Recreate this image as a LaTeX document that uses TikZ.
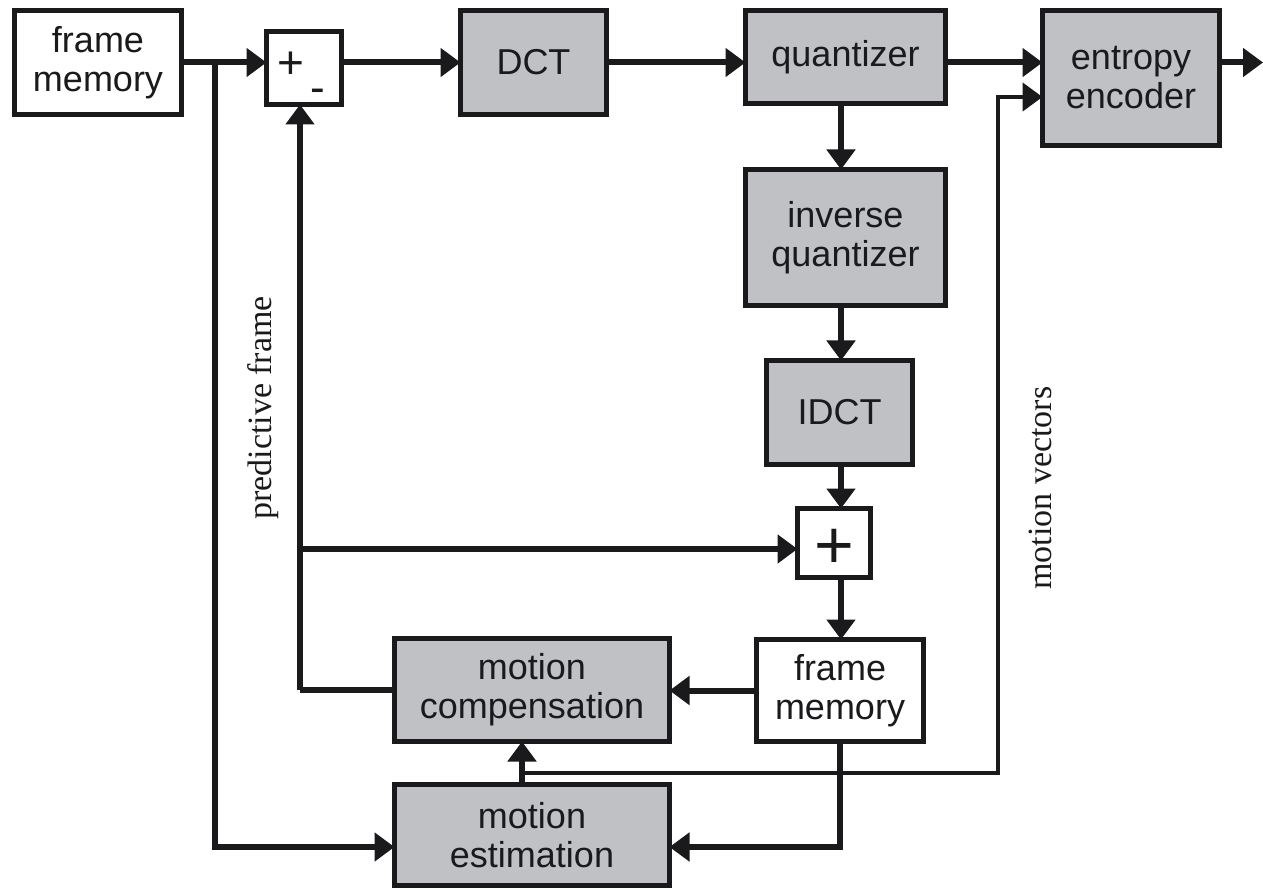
\documentclass[tikz,border=0pt]{standalone}
\usepackage{fontspec}
\setmainfont{Liberation Sans}
\newfontfamily\lblfont{Liberation Serif}
\usetikzlibrary{arrows.meta}
\definecolor{gfill}{RGB}{192,193,197}
\definecolor{lc}{RGB}{26,26,28}
\begin{document}
\begin{tikzpicture}[x=1pt,y=-1pt,
  blk/.style={draw=lc, line width=5.5pt, inner sep=0pt, outer sep=0pt, align=center,
              font=\fontsize{36}{39}\selectfont, text=lc},
  gblk/.style={blk, fill=gfill},
  wblk/.style={blk, fill=white},
  conn/.style={draw=lc, line width=6pt},
  arr/.style={conn, -{Triangle[length=20pt,width=28pt]}},
  mvl/.style={draw=lc, line width=4.5pt, -{Triangle[length=20pt,width=28pt]}},
  sign/.style={inner sep=0pt, text=lc},
  lbl/.style={rotate=90, inner sep=0pt, text=lc, font=\lblfont\fontsize{34}{37}\selectfont}
]
\useasboundingbox (0,0) rectangle (1263,890);
% blocks
\node[wblk, minimum width=167pt, minimum height=104pt] (fm1) at (98,62.5) {frame\\memory};
\node[wblk, minimum width=75pt, minimum height=73pt] (sub) at (304,68) {};
\node[sign, font=\fontsize{46}{46}\selectfont] (plusA) at (291,65) {+};
\node[sign, font=\fontsize{44}{44}\selectfont] (minusA) at (318,96) {-};
\node[gblk, minimum width=146pt, minimum height=104pt] (dct) at (533.5,62.5) {DCT};
\node[gblk, minimum width=200pt, minimum height=93pt] (quant) at (845.5,57) {quantizer};
\node[gblk, minimum width=177pt, minimum height=135pt] (ent) at (1131,78) {entropy\\encoder};
\node[gblk, minimum width=200pt, minimum height=136pt] (iq) at (845.5,237.5) {inverse\\quantizer};
\node[gblk, minimum width=146pt, minimum height=104pt] (idct) at (839.5,412.5) {IDCT};
\node[wblk, minimum width=73pt, minimum height=69pt] (add) at (834,543) {};
\node[sign, font=\fontsize{68}{68}\selectfont] (plusB) at (834,549) {+};
\node[wblk, minimum width=167pt, minimum height=102pt] (fm2) at (840,690.5) {frame\\memory};
\node[gblk, minimum width=275pt, minimum height=103pt] (mc) at (532,690) {motion\\compensation};
\node[gblk, minimum width=275pt, minimum height=101pt] (me) at (532,835) {motion\\estimation};
% labels
\node[lbl] (pf) at (263,408) {predictive frame};
\node[lbl] (mvlab) at (1040,488) {motion vectors};
% coordinates
\coordinate (j1) at (215,62.5);
\coordinate (c1) at (840,847);
\coordinate (p1) at (300,690);
\coordinate (p2) at (300,549);
\coordinate (vx) at (841,0);
\coordinate (mv0) at (522,773);
\coordinate (mv1) at (998,773);
\coordinate (mv2) at (998,97);
\coordinate (outend) at (1263,62.5);
% top chain
\draw[arr] (fm1.east) -- (fm1.east -| sub.west);
\draw[arr] (sub.east |- fm1.east) -- (dct.west);
\draw[arr] (dct.east) -- (dct.east -| quant.west);
\draw[arr] (quant.east |- dct.east) -- (ent.west |- dct.east);
\draw[arr] (ent.east |- dct.east) -- (outend);
% vertical chain
\draw[arr] (vx |- quant.south) -- (vx |- iq.north);
\draw[arr] (vx |- iq.south) -- (vx |- idct.north);
\draw[arr] (vx |- idct.south) -- (vx |- add.north);
\draw[arr] (vx |- add.south) -- (vx |- fm2.north);
% frame memory to motion blocks
\draw[arr] (fm2.west) -- (fm2.west -| mc.east);
\draw[arr] (fm2.south) -- (fm2.south |- c1) -- (me.east |- c1);
% branch from input
\draw[arr] (j1) -- (j1 |- c1) -- (me.west |- c1);
% predictive frame
\draw[conn] (mc.west) -- (p1);
\draw[arr] (p1) -- (p1 |- sub.south);
\draw[arr] (p2) -- (p2 -| add.west);
% motion vectors
\draw[arr] (me.north -| mv0) -- (mc.south -| mv0);
\draw[mvl] (mv0) -- (mv1) -- (mv2) -- (ent.west |- mv2);
\end{tikzpicture}
\end{document}
